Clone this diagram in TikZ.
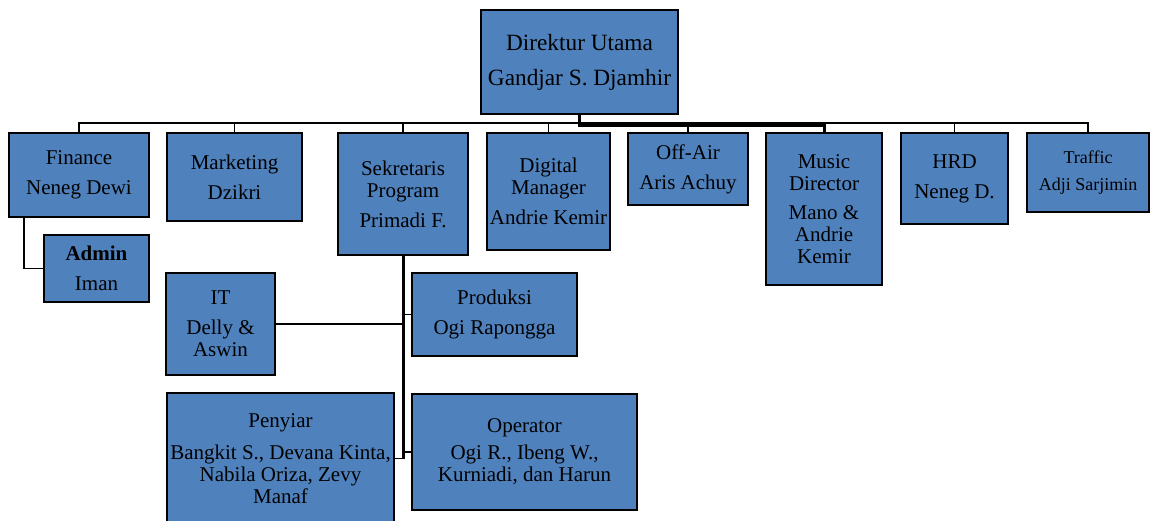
\documentclass[tikz,border=0pt]{standalone}
\usepackage{fontspec}
\setmainfont{Liberation Serif}
\definecolor{boxblue}{HTML}{4F81BD}
\begin{document}
\begin{tikzpicture}
[x=1pt, y=-1pt,
 box/.style={draw=black, line width=1.8pt, fill=boxblue, align=center, inner sep=0pt,
   outer sep=0pt, anchor=north west, font=\fontsize{21}{22}\selectfont},
 boxsize/.style 2 args={minimum width=#1pt, minimum height=#2pt},
 link/.style={draw=black, line width=1.5pt},
 trunk/.style={draw=black, line width=3pt}]
\useasboundingbox (0,0) rectangle (1151,520);

\node (dir) at (481,10) [box, boxsize={197}{104}, font=\fontsize{23.3}{25}\selectfont]
  {Direktur Utama\\[10pt]Gandjar S. Djamhir};

\node (fin) at (9,133) [box, boxsize={140}{84}] {Finance\\[8pt]Neneg Dewi};
\node (mkt) at (167,133) [box, boxsize={135}{88}] {Marketing\\[8pt]Dzikri};
\node (sek) at (338,133) [box, boxsize={130}{122}] {Sekretaris\\Program\\[8pt]Primadi F.};
\node (dig) at (487,133) [box, boxsize={123}{117}] {Digital\\Manager\\[8pt]Andrie Kemir};
\node (off) at (628,133) [box, boxsize={120}{72}] {Off-Air\\[8pt]Aris Achuy};
\node (mus) at (766,133) [box, boxsize={116}{152}] {Music\\Director\\[7pt]Mano \&\\Andrie\\Kemir};
\node (hrd) at (901,133) [box, boxsize={107}{91}] {HRD\\[8pt]Neneg D.};
\node (traf) at (1027,133) [box, boxsize={122}{79}, font=\fontsize{18}{19}\selectfont]
  {Traffic\\[8pt]Adji Sarjimin};

\node (adm) at (44,235) [box, boxsize={105}{67}] {\textbf{Admin}\\[8pt]Iman};

\node (it) at (166,273) [box, boxsize={109}{102}] {IT\\[8pt]Delly \&\\Aswin};
\node (prod) at (412,273) [box, boxsize={165}{83}] {Produksi\\[8pt]Ogi Rapongga};
\node (peny) at (167,393) [box, boxsize={227}{131}]
  {Penyiar\\[10pt]Bangkit S., Devana Kinta,\\Nabila Oriza, Zevy\\Manaf};
\node (oper) at (412,394) [box, boxsize={225}{116}]
  {Operator\\[5pt]Ogi R., Ibeng W.,\\Kurniadi, dan Harun};

% bus under the director
\draw[link] (fin.north) -- ++(0,-10) -| (traf.north);
\foreach \n in {mkt,sek,dig,off,hrd}
  \draw[link] (\n.north) -- ++(0,-10);
\draw[trunk] (dir.south) -- ++(0,11) -| (mus.north);

\draw[link] ([xshift=15pt]fin.south west) |- (adm.west);

% program staff
\draw[trunk] (sek.south) -- (sek.south |- peny.east);
\draw[link] (it.east) -- (it.east -| sek.south);
\draw[link] (prod.west) -- (prod.west -| sek.south);
\draw[link] (peny.east) -- (peny.east -| sek.south);
\draw[link] (oper.west) -- (oper.west -| sek.south);
\end{tikzpicture}
\end{document}
